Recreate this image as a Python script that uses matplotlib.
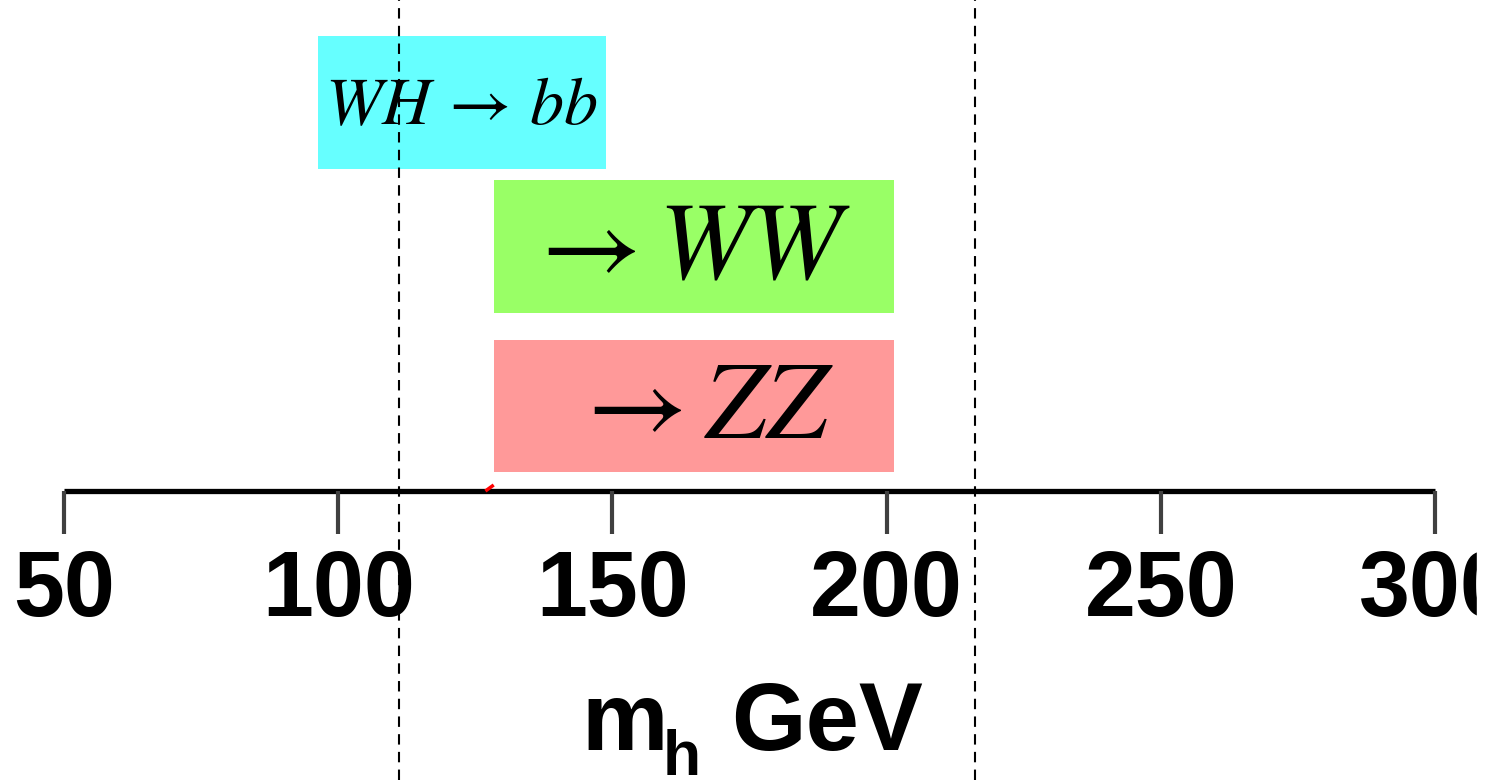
import matplotlib
matplotlib.use("Agg")
import matplotlib.pyplot as plt
from matplotlib.patches import Rectangle

# ── Search channels and their mass reach (GeV) ──────────────────────────
channels = [r"$WH \,\rightarrow\, bb$", r"$\rightarrow WW$", r"$\rightarrow ZZ$"]
mass_lo = [96.3, 128.4, 128.4]
mass_hi = [148.8, 201.3, 201.3]
box_colors = ["#66ffff", "#99ff66", "#ff9999"]

# Dashed reference masses and axis ticks
ref_masses = [111.1, 216.1]
tick_values = [50, 100, 150, 200, 250, 300]
marker_mass = 127.7

plt.rcParams["font.family"] = ["Liberation Sans", "DejaVu Sans"]

W, H = 1491, 780
fig = plt.figure(figsize=(W / 100, H / 100), dpi=100)
ax = fig.add_axes([0, 0, 1, 1])

# x: 50 GeV sits at 64 px, 300 GeV at 1435 px; y in pixel rows from the top
px_per_gev = (1435 - 64) / 250
ax.set_xlim(50 - 64 / px_per_gev, 50 + (W - 64) / px_per_gev)
ax.set_ylim(H, 0)
ax.axis("off")

# channel boxes
row_top = [36, 180, 340]
row_h = [133, 133, 132]
text_size = [49, 79, 79]
text_dx = [0.0, -1.0, 1.5]
for name, lo, hi, c, top, h, fs, dx in zip(channels, mass_lo, mass_hi, box_colors,
                                            row_top, row_h, text_size, text_dx):
    ax.barh(top + h / 2, hi - lo, left=lo, height=h, color=c, zorder=1)
    ax.text((lo + hi) / 2 + dx, top + h / 2 + 4, name, fontsize=fs,
            math_fontfamily="stix", ha="center", va="center", zorder=3)

# dashed vertical reference lines
for m in ref_masses:
    ax.axvline(m, color="black", lw=1.5, ls=(0, (5, 3.5)), zorder=4)

# mass axis line with ticks
axis_y = 491
ax.plot([tick_values[0], tick_values[-1]], [axis_y, axis_y], color="black",
        lw=3.8, solid_capstyle="butt", zorder=5)
for v in tick_values:
    ax.plot([v, v], [axis_y, 534], color="#404040", lw=3.0,
            solid_capstyle="butt", zorder=5)
    ax.text(v, 592, str(v), fontsize=66, fontweight="bold",
            ha="center", va="center", zorder=5)

# small red marker on the axis
ax.plot([marker_mass - 0.6, marker_mass + 0.4], [490, 486], color="red",
        lw=2.5, zorder=6)

# axis title: m, subscript h, GeV
ax.text(50 + (581 - 64) / px_per_gev, 750, "m", fontsize=70, fontweight="bold",
        ha="left", va="baseline", zorder=5)
ax.text(50 + (663 - 64) / px_per_gev, 775, "h", fontsize=45, fontweight="bold",
        ha="left", va="baseline", zorder=5)
ax.text(50 + (731 - 64) / px_per_gev, 750, "GeV", fontsize=69, fontweight="bold",
        ha="left", va="baseline", zorder=5)

# the figure is trimmed just past the last tick label
fig.patches.append(Rectangle((1477 / W, 0), 1, 1, transform=fig.transFigure,
                             color="white", zorder=10))

fig.savefig("out.png", dpi=100, facecolor="white")
